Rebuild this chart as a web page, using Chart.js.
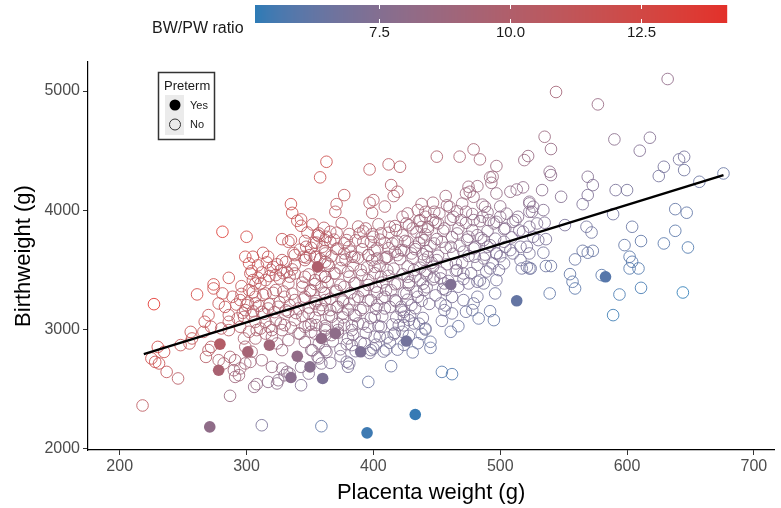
<!DOCTYPE html>
<html>
<head>
<meta charset="utf-8">
<script src="https://cdn.jsdelivr.net/npm/chart.js@4.4.1/dist/chart.umd.min.js"></script>
<style>html,body{margin:0;padding:0;background:#fff}canvas{display:block}</style>
</head>
<body>
<canvas id="myChart" width="781" height="508"></canvas>
<script>
const FONT = "'Liberation Sans', Arial, sans-serif";

// placenta weight (g), birthweight (g) - term babies
const termPoints = [
  [363,4406],[358,4275],[335,4050],[336,3977],[340,3910],[343,3922],[281,3818],[300,3776],[313,3641],[299,3608],
  [305,3608],[328,3756],[333,3734],[335,3748],[347,3692],[353,3725],[357,3781],[362,3748],[337,3639],[345,3608],
  [350,3622],[355,3608],[362,3636],
  [227,3210],[261,3292],[274,3376],[274,3342],[286,3431],[296,3361],[303,3468],[305,3412],[307,3384],[321,3523],
  [327,3496],[332,3481],[278,3216],[283,3187],[286,3118],[300,3202],[307,3216],[312,3145],[293,3090],[298,3103],
  [256,2977],[248,2866],[255,2880],[257,2922],[266,2977],[280,3006],[286,2992],[230,2851],[235,2809],[225,2754],
  [228,2725],[231,2712],[237,2641],[246,2586],[218,2359],[270,2824],[268,2767],[272,2851],[278,2739],[282,2712],
  [287,2767],[291,2739],[290,2655],[294,2613],[295,2670],[291,2599],[299,2712],[303,2725],[315,2963],[320,2935],
  [324,2880],[328,2824],[333,2908],[312,2739],[320,2683],[325,2571],[328,2670],[332,2641],[312,2193],[359,2185],
  [287,2440],[306,2515],[308,2538],[317,2557],[324,2544],[330,2613],[334,2627],[343,2529],[343,2683],[349,2627],
  [354,2963],[349,3034],[355,3034],[362,3006],[362,2824],[356,2767],[351,2824],[359,2712],[299,2852],[304,2810],
  [307,2922],[298,2922],
  [317,3608],[328,3580],[338,3622],[346,3580],[354,3608],[362,3566],[323,3454],[338,3468],[346,3440],[354,3412],
  [362,3440],[333,3384],[344,3356],[351,3328],[359,3356],[315,3300],[323,3328],[330,3272],[338,3244],[346,3272],
  [354,3216],[362,3244],[317,3174],[325,3188],[333,3146],[341,3174],[349,3132],[357,3160],[307,3062],[315,3062],
  [323,3076],[330,3034],[338,3076],[346,3020],[341,2964],[328,2992],[320,2992],[281,3300],[289,3272],[295,3244],
  [302,3328],[307,3272],[311,3384],[315,3412],[299,3160],[304,3118],[286,3062],[295,3020],[302,2978],[308,2992],
  [270,3118],[267,3062],[272,3020],
  [397,4342],[412,4384],[421,4364],[450,4449],[468,4449],[479,4510],[484,4426],[497,4370],[519,4420],[522,4454],
  [377,4126],[371,4050],[370,3986],[397,4061],[400,4084],[399,3977],[409,4030],[414,4210],[416,4118],[419,4154],
  [457,4118],[475,4196],[476,4154],[479,4112],[473,4140],[482,4201],[492,4275],[493,4229],[494,4280],[497,4140],
  [508,4154],[513,4173],[518,4191],[523,4070],[523,3986],[526,4028],
  [357,3804],[363,3776],[371,3810],[366,3734],[360,3692],[372,3678],[379,3748],[381,3692],[389,3804],[392,3734],
  [394,3846],[400,3776],[406,3804],[409,3726],[403,3678],[413,3860],[418,3832],[419,3734],[423,3944],[427,3972],
  [426,3888],[431,3846],[435,4000],[437,3916],[441,3944],[443,3860],[447,3916],[448,3986],[451,3888],[456,3846],
  [460,4028],[463,3944],[469,3916],[473,3986],[479,3916],[486,3944],[488,4028],[491,3916],[495,3888],[500,3944],
  [504,3846],[510,3902],[514,3944],[518,3818],[523,3860],[526,3776],[475,3776],[482,3790],[487,3748],[466,3804],
  [461,3692],[454,3734],[448,3720],[440,3748],[433,3692],[427,3734],[422,3664],[417,3650],[411,3608],[383,3608],
  [377,3636],[396,3622],[403,3594],[471,3650],[479,3678],[490,3692],[497,3636],[508,3664],[516,3692],[523,3636],
  [503,3734],
  [396,2557],[414,2689],[454,2641],[462,2622],[445,2843],[445,2894],[441,2997],[410,2829],[411,2930],[374,2773],
  [366,2717],[380,2684],[381,2712],[379,2726],[398,2824],[400,2838],[357,2754],[401,2936],[393,2880],[383,2866],
  [380,2922],[417,2969],[423,2978],[420,3034],[441,3006],[432,3048],[428,3076],[424,3104],[454,3070],[461,2978],
  [467,3025],[462,3132],[456,3160],[453,3216],[473,3146],[478,3160],[483,3090],[495,3076],[492,3151],[471,3244],
  [479,3216],[482,3272],[475,3384],[482,3398],[487,3384],[497,3412],[496,3300],[492,3510],[499,3496],[503,3552],
  [517,3510],[523,3510],[457,3328],[456,3384],[453,3426],[448,3440],[447,3524],[466,3496],[471,3468],[465,3552],
  [480,3608],[487,3594],[497,3636],[510,3636],[516,3580],[440,3328],[435,3272],[430,3202],[424,3146],[422,3188],
  [417,3244],[409,3272],[410,3328],[419,3384],[427,3440],[432,3496],[437,3412],[426,3300],[428,3370],[396,3020],
  [388,3048],[383,2992],[377,3034],[372,2992],[367,2950],[362,2992],[367,3104],[376,3132],[385,3118],[390,3160],
  [401,3104],[406,3020],[403,3202],[409,3174],[398,3244],[393,3328],[388,3272],[381,3216],[376,3244],[372,3188],
  [366,3160],[359,3202],[362,3300],[370,3314],[377,3356],[385,3384],[396,3412],[402,3356],[406,3440],[411,3496],
  [401,3524],[390,3496],[380,3482],[370,3468],[362,3440],[364,3552],[375,3580],[385,3608],[396,3622],[409,3594],
  [419,3622],[430,3636],[443,3608],[450,3580],
  [544,4992],[577,4888],[632,5101],[535,4616],[540,4513],[590,4594],[610,4499],[618,4608],[539,4322],[540,4294],
  [569,4280],[573,4210],[569,4126],[565,4050],[533,4168],[548,4112],[591,4168],[600,4168],[629,4364],[625,4286],
  [641,4426],[645,4448],[645,4336],[657,4238],[676,4308],[523,4056],[525,3986],[534,4000],[529,3888],[535,3894],
  [530,3748],[536,3756],[534,3642],[521,3692],[551,3874],[568,3860],[572,3812],[589,3966],[604,3860],[611,3740],
  [598,3706],[602,3608],[638,4008],[647,3978],[638,3826],[629,3720],[648,3686],[565,3658],[569,3642],[573,3658],
  [559,3586],
  [521,3524],[524,3510],[536,3530],[540,3530],[555,3462],[557,3398],[559,3342],[539,3300],[580,3454],[604,3566],
  [602,3510],[609,3510],[594,3291],[611,3347],[589,3118],[644,3308],
  // dense core around the fitted line
  [343,3868],[352,3879],[361,3851],[375,3890],[388,3862],[404,3881],[417,3866],[428,3873],[438,3858],
  [348,3812],[356,3790],[366,3818],[381,3799],[392,3821],[399,3797],[412,3810],[423,3789],[434,3815],[441,3796],
  [346,3741],[355,3727],[369,3752],[377,3721],[386,3746],[398,3733],[405,3752],[415,3719],[425,3741],[436,3727],
  [342,3668],[351,3683],[362,3657],[371,3674],[382,3651],[391,3671],[401,3659],[412,3680],[424,3661],[433,3672],
  [442,3655],[347,3601],[358,3590],[367,3612],[378,3585],[388,3600],[399,3579],[410,3603],[421,3588],[431,3598],
  [440,3583],[365,3531],[374,3514],[384,3536],[395,3519],[405,3532],[416,3508],[427,3527],[437,3516],
  [349,3460],[359,3447],[369,3468],[381,3441],[391,3455],[401,3470],[412,3448],[423,3461],[433,3443],[442,3457],
  [344,3391],[354,3379],[364,3396],[374,3372],[386,3389],[396,3371],[407,3392],[417,3377],[428,3394],[439,3382],
  [350,3321],[361,3307],[371,3325],[382,3302],[392,3318],[403,3309],[414,3326],[424,3301],[434,3315],
  [345,3250],[355,3236],[366,3256],[376,3232],[385,3249],[396,3240],[407,3258],[418,3233],[427,3247],[438,3238],
  [349,3181],[360,3168],[371,3184],[380,3163],[392,3178],[402,3170],[413,3186],[422,3161],[433,3176],
  [344,3109],[354,3096],[365,3113],[376,3098],[386,3111],[398,3093],[407,3108],[418,3099],[429,3112],[439,3094],
  [351,3041],[362,3028],[372,3045],[383,3030],[392,3043],[404,3026],[415,3039],[424,3032],[436,3046],
  [438,4051],[447,4062],[458,4040],[470,4055],[486,4046],[500,4031],
  [441,3985],[452,3972],[466,3990],[478,3967],[490,3982],[505,3970],
  [436,3911],[449,3898],[461,3920],[473,3893],[484,3907],[497,3901],[512,3915],
  [443,3838],[455,3826],[467,3845],[478,3831],[490,3824],[503,3840],[515,3829],
  [438,3769],[450,3757],[462,3773],[474,3751],[485,3766],[496,3760],[509,3771],
  [445,3697],[457,3683],[468,3700],[480,3688],[492,3705],[504,3690],
  [439,3629],[451,3617],[463,3633],[475,3615],[488,3626],[500,3612],
  [446,3557],[458,3545],[470,3560],[482,3540],[494,3553],
  [441,3489],[453,3475],[465,3491],[477,3470],[489,3484],
  [447,3418],[459,3405],[471,3421],[484,3409],
  [442,3352],[455,3339],[467,3356],[449,3284],[462,3270],[444,3212],[457,3199],
  [302,3552],[309,3536],[316,3561],[324,3545],[331,3563],[338,3540],
  [304,3489],[312,3476],[319,3498],[329,3470],[336,3502],
  [309,3431],[318,3446],[326,3425],[334,3441],
  [296,3296],[305,3310],[313,3289],[321,3305],[329,3316],[336,3298],
  [292,3207],[301,3222],[310,3195],[318,3209],[326,3226],[334,3201],
  [297,3137],[305,3150],[314,3129],[322,3143],[331,3158],[339,3135],
  [311,3005],[318,3019],[327,3048],[335,3013],
  [342,2962],[351,2978],[362,2945],[372,2970],[384,2952],[394,2968],[405,2940],[416,2956],[428,2944],[438,2960],
  [346,2892],[357,2880],[368,2898],[379,2874],[390,2889],[402,2870],[413,2886],[424,2868],[435,2882],
  [352,2822],[363,2808],[374,2831],[386,2815],[397,2800],[408,2812],[419,2828],[431,2805]
];

// preterm babies
const pretermPoints = [
  [356,3523],[279,2874],[278,2655],[301,2809],[318,2866],[340,2773],[350,2683],[335,2594],[360,2586],[271,2179],
  [461,3375],[513,3238],[370,2964],[359,2922],[426,2900],[390,2810],[433,2283],[395,2129],[583,3440]
];

// fitted linear regression line
const fitX = [219, 676];
const fitY = [2790, 4294];

const xTicks = [200, 300, 400, 500, 600, 700];
const yTicks = [2000, 3000, 4000, 5000];
const ratioTicks = [7.5, 10.0, 12.5];
const ratioTickLabels = ['7.5', '10.0', '12.5'];
const lowColour = [44, 123, 182];
const highColour = [227, 48, 42];

// ---- colour scale (Lab interpolation like ggplot) ----
function lin(c) { c /= 255; return c <= 0.04045 ? c / 12.92 : Math.pow((c + 0.055) / 1.055, 2.4); }
function unlin(c) {
  const v = c <= 0.0031308 ? 12.92 * c : 1.055 * Math.pow(c, 1 / 2.4) - 0.055;
  return Math.round(Math.max(0, Math.min(1, v)) * 255);
}
function toLab(rgb) {
  const r = lin(rgb[0]), g = lin(rgb[1]), b = lin(rgb[2]);
  const X = (0.4124 * r + 0.3576 * g + 0.1805 * b) / 0.95047;
  const Y = 0.2126 * r + 0.7152 * g + 0.0722 * b;
  const Z = (0.0193 * r + 0.1192 * g + 0.9505 * b) / 1.08883;
  const f = t => t > 0.008856 ? Math.cbrt(t) : 7.787 * t + 16 / 116;
  return [116 * f(Y) - 16, 500 * (f(X) - f(Y)), 200 * (f(Y) - f(Z))];
}
function fromLab(lab) {
  const fy = (lab[0] + 16) / 116, fx = fy + lab[1] / 500, fz = fy - lab[2] / 200;
  const inv = t => t * t * t > 0.008856 ? t * t * t : (t - 16 / 116) / 7.787;
  const X = inv(fx) * 0.95047, Y = inv(fy), Z = inv(fz) * 1.08883;
  return [
    unlin(3.2406 * X - 1.5372 * Y - 0.4986 * Z),
    unlin(-0.9689 * X + 1.8758 * Y + 0.0415 * Z),
    unlin(0.0557 * X - 0.2040 * Y + 1.0570 * Z)
  ];
}
const labLow = toLab(lowColour), labHigh = toLab(highColour);

const allRatios = termPoints.concat(pretermPoints).map(p => p[1] / p[0]);
const ratioMin = Math.min(...allRatios);
const ratioMax = Math.max(...allRatios);

function ratioColour(r, alpha) {
  const t = Math.max(0, Math.min(1, (r - ratioMin) / (ratioMax - ratioMin)));
  const c = fromLab(labLow.map((v, i) => v + (labHigh[i] - v) * t));
  return 'rgba(' + c[0] + ',' + c[1] + ',' + c[2] + ',' + alpha + ')';
}

// ---- overlays: colourbar and preterm legend ----
const overlays = {
  id: 'overlays',
  afterDraw(chart) {
    const ctx = chart.ctx;
    ctx.save();
    // colourbar
    const bx = 255, bw = 472, by = 5, bh = 18;
    for (let i = 0; i < bw; i++) {
      ctx.fillStyle = ratioColour(ratioMin + (ratioMax - ratioMin) * (i + 0.5) / bw, 1);
      ctx.fillRect(bx + i, by, 1.2, bh);
    }
    ctx.strokeStyle = '#fff';
    ctx.lineWidth = 1;
    ctx.fillStyle = '#1a1a1a';
    ctx.font = '15px ' + FONT;
    ctx.textAlign = 'center';
    ctx.textBaseline = 'middle';
    ratioTicks.forEach((t, i) => {
      const x = Math.round(bx + (t - ratioMin) / (ratioMax - ratioMin) * bw) + 0.5;
      ctx.beginPath();
      ctx.moveTo(x, by); ctx.lineTo(x, by + 4);
      ctx.moveTo(x, by + bh - 4); ctx.lineTo(x, by + bh);
      ctx.stroke();
      ctx.fillText(ratioTickLabels[i], x, 33);
    });
    ctx.textAlign = 'left';
    ctx.font = '16px ' + FONT;
    ctx.fillText('BW/PW ratio', 152, 29);

    // preterm legend
    ctx.fillStyle = '#fff';
    ctx.fillRect(158, 72, 57, 68);
    ctx.strokeStyle = '#333';
    ctx.lineWidth = 1.5;
    ctx.strokeRect(158.5, 72.5, 56, 67);
    ctx.fillStyle = '#1a1a1a';
    ctx.font = '13px ' + FONT;
    ctx.fillText('Preterm', 164, 86);
    ctx.fillStyle = '#ebebeb';
    ctx.fillRect(165, 95, 19, 40);
    ctx.fillStyle = '#000';
    ctx.beginPath(); ctx.arc(175, 105, 5.5, 0, Math.PI * 2); ctx.fill();
    ctx.strokeStyle = '#333';
    ctx.lineWidth = 1;
    ctx.beginPath(); ctx.arc(175, 124.5, 5.5, 0, Math.PI * 2); ctx.stroke();
    ctx.fillStyle = '#1a1a1a';
    ctx.font = '11px ' + FONT;
    ctx.fillText('Yes', 190, 106);
    ctx.fillText('No', 190, 125);
    ctx.restore();
  }
};

const ctx = document.getElementById('myChart');
const myChart = new Chart(ctx, {
  type: 'scatter',
  data: {
    datasets: [
      {
        type: 'line',
        data: fitX.map((x, i) => ({ x: x, y: fitY[i] })),
        borderColor: '#000',
        borderWidth: 2.5,
        pointRadius: 0,
        fill: false
      },
      {
        data: pretermPoints.map(p => ({ x: p[0], y: p[1] })),
        pointRadius: 5.8,
        borderWidth: 0,
        backgroundColor: pretermPoints.map(p => ratioColour(p[1] / p[0], 1))
      },
      {
        data: termPoints.map(p => ({ x: p[0], y: p[1] })),
        pointRadius: 5.8,
        borderWidth: 1,
        backgroundColor: 'rgba(0,0,0,0)',
        borderColor: termPoints.map(p => ratioColour(p[1] / p[0], 0.85))
      }
    ]
  },
  options: {
    responsive: false,
    animation: false,
    devicePixelRatio: 1,
    events: [],
    layout: { padding: { top: 62, right: 1, left: 0, bottom: 0 } },
    plugins: { legend: { display: false }, tooltip: { enabled: false } },
    scales: {
      x: {
        type: 'linear',
        min: 175,
        max: 716,
        afterBuildTicks: s => { s.ticks = xTicks.map(v => ({ value: v })); },
        afterFit: s => { s.height = 58; },
        grid: { display: true, drawOnChartArea: false, drawTicks: true, tickLength: 5, color: '#333' },
        border: { display: true, color: '#000', width: 1.2 },
        ticks: { color: '#4d4d4d', font: { family: FONT, size: 16 }, padding: 2, maxRotation: 0, callback: v => String(v) },
        title: { display: true, text: 'Placenta weight (g)', color: '#000', font: { family: FONT, size: 22 }, padding: { top: 0, bottom: 2 } }
      },
      y: {
        type: 'linear',
        min: 1985,
        max: 5244,
        afterBuildTicks: s => { s.ticks = yTicks.map(v => ({ value: v })); },
        afterFit: s => { s.width = 88; },
        grid: { display: true, drawOnChartArea: false, drawTicks: true, tickLength: 5, color: '#333' },
        border: { display: true, color: '#000', width: 1.2 },
        ticks: { color: '#4d4d4d', font: { family: FONT, size: 16 }, padding: 3, callback: v => String(v) },
        title: { display: true, text: 'Birthweight (g)', color: '#000', font: { family: FONT, size: 22 }, padding: { top: 11, bottom: 0 } }
      }
    }
  },
  plugins: [overlays]
});
</script>
</body>
</html>
